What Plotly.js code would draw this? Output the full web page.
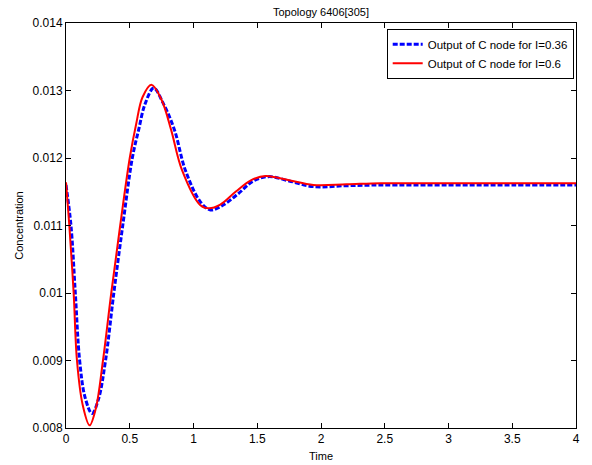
<!DOCTYPE html>
<html>
<head>
<meta charset="utf-8">
<script src="https://cdn.plot.ly/plotly-3.0.1.min.js"></script>
<style>html,body{margin:0;padding:0;background:#fff;}#chart{width:592px;height:465px;}</style>
</head>
<body>
<div id="chart"></div>
<script>
// Output of C node for I=0.36 (blue dashed)
const tBlue = [0, 0.039, 0.073, 0.107, 0.15, 0.204, 0.255, 0.31, 0.375, 0.445, 0.52, 0.57, 0.62, 0.688, 0.76, 0.85, 0.936, 1.054, 1.133, 1.23, 1.35, 1.47, 1.59, 1.75, 1.94, 2.2, 2.47, 3.0, 3.5, 4.0];
const cBlue = [0.01160, 0.0110, 0.0100, 0.0090, 0.00845, 0.008214, 0.00843, 0.0090, 0.0100, 0.0110, 0.0120, 0.01242, 0.01280, 0.013036, 0.01282, 0.01242, 0.01182, 0.01135, 0.01123, 0.01130, 0.01147, 0.01166, 0.011724, 0.01166, 0.011576, 0.01159, 0.01160, 0.01160, 0.01160, 0.01160];
// Output of C node for I=0.6 (red solid)
const tRed = [0, 0.026, 0.06, 0.086, 0.13, 0.185, 0.235, 0.29, 0.355, 0.425, 0.50, 0.55, 0.60, 0.67, 0.75, 0.824, 0.91, 1.054, 1.12, 1.21, 1.33, 1.45, 1.565, 1.75, 1.94, 2.2, 2.47, 3.0, 3.5, 4.0];
const cRed = [0.01164, 0.0110, 0.0100, 0.0090, 0.00835, 0.00804, 0.00830, 0.0090, 0.0100, 0.0110, 0.0120, 0.0125, 0.0129, 0.013085, 0.01286, 0.01242, 0.01182, 0.01130, 0.011255, 0.01131, 0.01150, 0.01167, 0.011734, 0.01167, 0.01160, 0.01161, 0.011626, 0.011625, 0.011625, 0.011625];
const xTicks = [0, 0.5, 1, 1.5, 2, 2.5, 3, 3.5, 4];
const xTickText = ["0", "0.5", "1", "1.5", "2", "2.5", "3", "3.5", "4"];
const yTicks = [0.008, 0.009, 0.010, 0.011, 0.012, 0.013, 0.014];
const yTickText = ["0.008", "0.009", "0.01", "0.011", "0.012", "0.013", "0.014"];

const fam = "Liberation Sans, Arial, sans-serif";
const font = {family: fam, size: 11, color: "#000"};
const tickFont = {family: fam, size: 12, color: "#000"};
const legendFont = {family: fam, size: 11.5, color: "#000"};
const traces = [
  {x: tBlue, y: cBlue, mode: "lines", name: "Output of C node for I=0.36",
   line: {color: "#0000ff", width: 3, dash: "5px,2px", shape: "spline", smoothing: 1}},
  {x: tRed, y: cRed, mode: "lines", name: "Output of C node for I=0.6",
   line: {color: "#ff0000", width: 2, shape: "spline", smoothing: 1}}
];
const axisCommon = {showline: true, linecolor: "#000", linewidth: 1, mirror: "ticks", ticks: "inside",
  ticklen: 5, tickcolor: "#000", showgrid: false, zeroline: false, tickfont: tickFont};
const layout = {
  width: 592, height: 465,
  margin: {l: 66, r: 16, t: 23, b: 37},
  paper_bgcolor: "#fff", plot_bgcolor: "#fff",
  font: font,
  title: {text: "Topology 6406[305]", font: font, x: 0.5, xref: "paper", y: 0.974, yanchor: "middle", yref: "container"},
  xaxis: Object.assign({}, axisCommon, {range: [0, 4], tickvals: xTicks, ticktext: xTickText,
    title: {text: "Time", font: font, standoff: 6}}),
  yaxis: Object.assign({}, axisCommon, {range: [0.008, 0.014], tickvals: yTicks, ticktext: yTickText,
    title: {text: "Concentration", font: font, standoff: 6}}),
  showlegend: true,
  legend: {x: 0.9955, xanchor: "right", y: 0.986, yanchor: "top", bgcolor: "#fff",
    bordercolor: "#000", borderwidth: 1, font: legendFont, tracegroupgap: 0}
};
Plotly.newPlot("chart", traces, layout, {staticPlot: true, displayModeBar: false});
</script>
</body>
</html>
